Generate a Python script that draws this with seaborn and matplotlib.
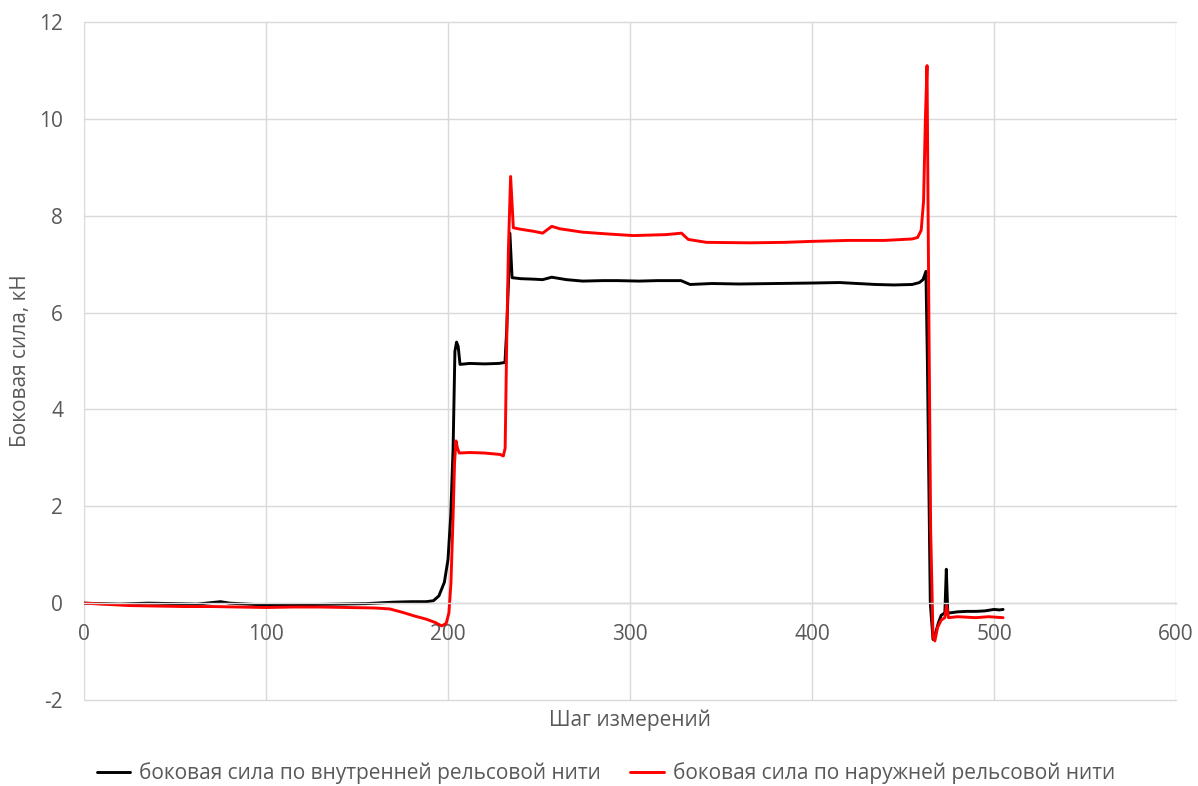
import numpy as np
import pandas as pd
import matplotlib
matplotlib.use("Agg")
import matplotlib.pyplot as plt
import seaborn as sns

# Lateral force along the measurement run (kN) for the inner and outer rail
inner_steps = [0, 8, 20, 35, 50, 62, 75, 80, 95, 110, 125, 140, 155, 170, 180, 188, 192,
               195, 198, 200, 201.5, 202.8, 203.8, 204.7, 205.6, 206.6, 212, 220, 228, 231.3,
               232.2, 233.2, 234, 235.2, 240, 247, 252, 257, 265, 274, 285, 293, 305, 315, 328,
               333, 345, 360, 380, 400, 415, 425, 435, 445, 455, 459, 461, 462.6, 463.4,
               464.2, 465, 466.5, 468, 469.5, 471, 473, 473.8, 474.6, 476, 480, 485, 490,
               495, 500, 503, 505]
inner_force = [0.0, -0.01, -0.02, 0.0, -0.01, -0.02, 0.03, 0.0, -0.03, -0.04, -0.03, -0.02,
               -0.01, 0.02, 0.03, 0.03, 0.05, 0.15, 0.43, 0.9, 1.8, 3.2, 5.2, 5.39, 5.3, 4.93,
               4.95, 4.94, 4.95, 4.97, 5.6, 6.6, 7.64, 6.72, 6.70, 6.69, 6.68, 6.73, 6.68,
               6.65, 6.66, 6.66, 6.65, 6.66, 6.66, 6.58, 6.60, 6.59, 6.60, 6.61, 6.62, 6.60,
               6.58, 6.57, 6.58, 6.62, 6.68, 6.85, 5.0, 2.5, 0.0, -0.75, -0.6, -0.4, -0.25,
               -0.2, 0.7, -0.2, -0.2, -0.18, -0.17, -0.17, -0.16, -0.13, -0.14, -0.13]

outer_steps = [0, 10, 25, 40, 55, 70, 85, 100, 115, 130, 145, 160, 168, 175, 182, 188,
               193, 196.5, 199, 200.5, 201.6, 202.8, 203.6, 204.4, 205.2, 206.2, 212, 220,
               228.6, 230.4, 231.4, 232.3, 233.2, 234.4, 235.9, 240, 246.8, 252, 257, 261.5,
               274, 289, 301.8, 320, 328.3, 332, 342, 366, 385, 400, 420, 440, 455, 458,
               460, 461.3, 462.3, 463.2, 464.2, 465.2, 466.5, 467.5, 469, 471, 473, 473.9,
               475, 480, 490, 497, 505]
outer_force = [0.0, -0.02, -0.05, -0.06, -0.07, -0.07, -0.08, -0.09, -0.08, -0.08, -0.09,
               -0.1, -0.12, -0.19, -0.27, -0.33, -0.4, -0.47, -0.42, -0.2, 0.4, 1.8, 2.9, 3.35,
               3.2, 3.1, 3.11, 3.1, 3.07, 3.04, 3.2, 5.5, 7.3, 8.81, 7.75, 7.72, 7.68, 7.64,
               7.78, 7.73, 7.66, 7.62, 7.59, 7.61, 7.64, 7.51, 7.45, 7.44, 7.45, 7.47, 7.49,
               7.49, 7.52, 7.55, 7.7, 8.3, 10.0, 11.1, 6.0, 1.5, -0.7, -0.78, -0.5, -0.35,
               -0.3, -0.05, -0.3, -0.28, -0.3, -0.28, -0.3]

series_names = ["боковая сила по внутренней рельсовой нити",
                "боковая сила по наружней рельсовой нити"]
series_colors = ["#000000", "#ff0000"]

x_ticks = [0, 100, 200, 300, 400, 500, 600]
y_ticks = [-2, 0, 2, 4, 6, 8, 10, 12]

df = pd.concat([
    pd.DataFrame({"step": inner_steps, "force": inner_force, "series": series_names[0]}),
    pd.DataFrame({"step": outer_steps, "force": outer_force, "series": series_names[1]}),
], ignore_index=True)

sns.set_theme(style="white")
plt.rcParams["font.family"] = ["Open Sans", "DejaVu Sans"]
plt.rcParams["axes.unicode_minus"] = False

fig = plt.figure(figsize=(11.98, 7.86), dpi=100)
ax = fig.add_axes([84 / 1198, 1 - 700 / 786, 1092 / 1198, 678 / 786])

sns.lineplot(data=df, x="step", y="force", hue="series", hue_order=series_names,
             palette=series_colors, sort=False, estimator=None, linewidth=2.1, ax=ax)

grey = "#595959"
grid = "#d9d9d9"
fs = 15
ax.set_xlim(0, 600)
ax.set_ylim(-2, 12)
ax.set_xticks(x_ticks)
ax.set_yticks(y_ticks)
ax.grid(True, color=grid, linewidth=1)
ax.set_axisbelow(True)
for gl in ax.get_xgridlines() + ax.get_ygridlines():
    gl.set_clip_on(False)
for side in ["top", "right", "left"]:
    ax.spines[side].set_visible(False)
ax.spines["bottom"].set_position(("data", 0))
ax.spines["bottom"].set_color(grid)
ax.spines["bottom"].set_linewidth(1)
ax.tick_params(axis="both", length=0, labelsize=fs, labelcolor=grey)
ax.tick_params(axis="x", pad=15)
ax.tick_params(axis="y", pad=15)

ax.set_xlabel("Шаг измерений", fontsize=fs, color=grey)
ax.set_ylabel("Боковая сила, кН", fontsize=fs, color=grey)
ax.xaxis.set_label_coords(0.5, -0.0295)
ax.xaxis.label.set_va("center")
ax.yaxis.set_label_coords(-0.058, 0.5)
ax.yaxis.label.set_va("center")

sns.move_legend(ax, "center", bbox_to_anchor=(0.478, -0.108), ncol=2, frameon=False,
                title=None, fontsize=fs, handlelength=1.6, handletextpad=0.45,
                columnspacing=1.4, labelcolor=grey)

fig.savefig("out.png", dpi=100)
